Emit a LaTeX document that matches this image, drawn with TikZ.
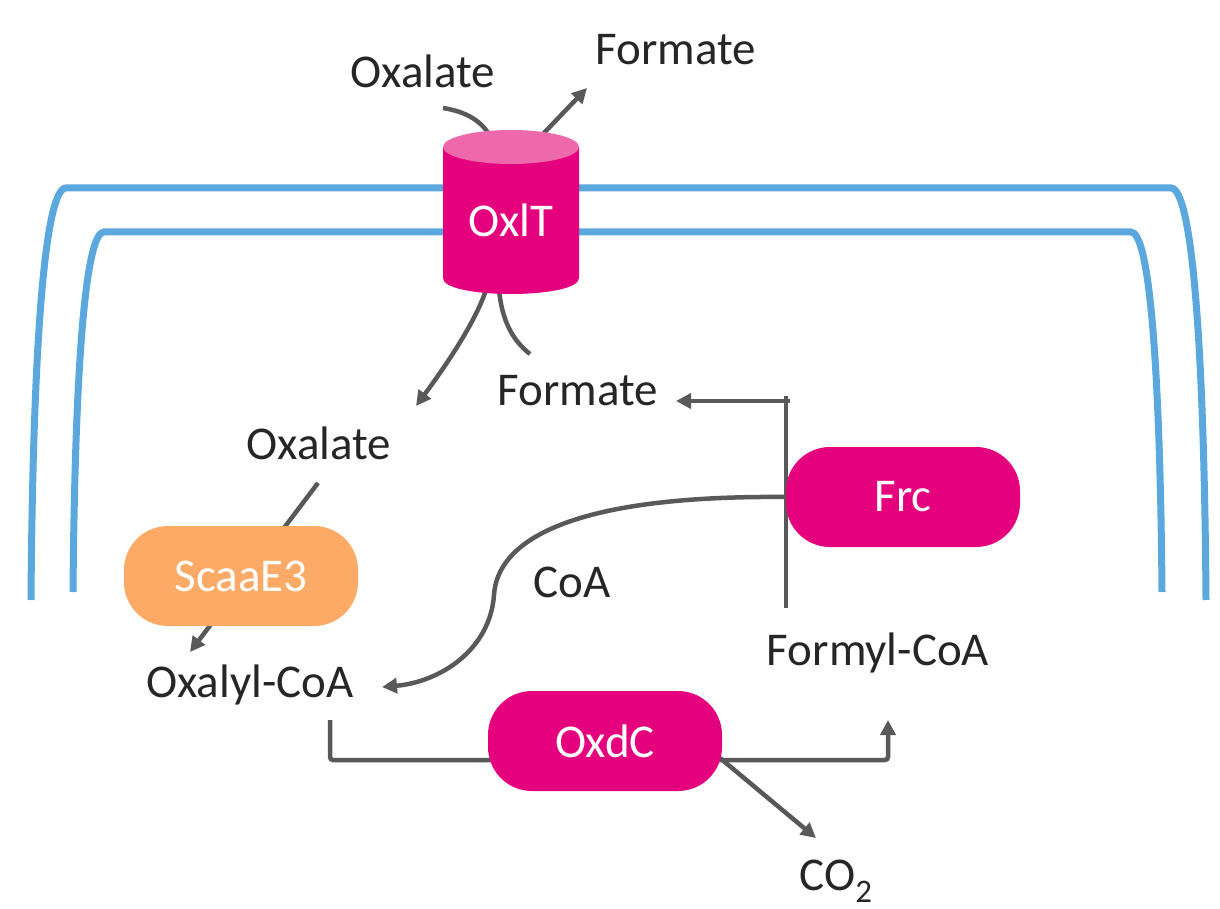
\documentclass[tikz,border=0pt]{standalone}
\usepackage{fontspec}
\setmainfont{Carlito}
\usetikzlibrary{arrows.meta}
\pgfdeclarelayer{back}
\pgfsetlayers{back,main}
\definecolor{memb}{RGB}{91,168,222}
\definecolor{pinkc}{RGB}{229,0,125}
\definecolor{pinktop}{RGB}{238,104,172}
\definecolor{orangec}{RGB}{252,170,102}
\definecolor{arrowc}{RGB}{89,89,89}
\definecolor{txt}{RGB}{38,38,38}
\begin{document}
\begin{tikzpicture}[x=1pt,y=-1pt,font=\fontsize{47}{56}\selectfont,
  lbl/.style={text=txt,inner sep=0pt,anchor=base},
  enz/.style={fill=pinkc,text=white,rounded corners=44pt,minimum width=234pt,minimum height=100pt,inner sep=0pt},
  conn/.style={draw=arrowc,line width=4.5pt},
  arr/.style={conn,-{Triangle[length=15pt,width=15pt]}},
  memline/.style={draw=memb,line width=7pt}]
\useasboundingbox (0,0) rectangle (1220,909);
% membranes
\begin{pgfonlayer}{back}
\draw[memline] (31,600) .. controls (33,330) and (46,188) .. (66,188) -- (1171,188) .. controls (1191,188) and (1204,330) .. (1206,600);
\draw[memline] (73,592) .. controls (75,360) and (86,232) .. (104,232) -- (1131,232) .. controls (1149,232) and (1160,360) .. (1162,592);
\end{pgfonlayer}
% transporter
\fill[pinkc] (443,147) -- (443,278) .. controls (443,299.3) and (579,299.3) .. (579,278) -- (579,147) -- cycle;
\fill[pinktop] (511,147) ellipse [x radius=68pt, y radius=17pt];
\node[text=white,inner sep=0pt,anchor=base] (oxlt) at (511,237) {OxlT};
% labels
\node[lbl] (oxaOut) at (423,88) {Oxalate};
\node[lbl] (forOut) at (676,65) {Formate};
\node[lbl] (forIn) at (578,405) {Formate};
\node[lbl] (oxaIn) at (319,459) {Oxalate};
\node[lbl] (coa) at (572,597) {CoA};
\node[lbl] (oxcoa) at (250,697) {Oxalyl-CoA};
\node[lbl] (fcoa) at (878,665) {Formyl-CoA};
\node[lbl] (co2) at (836,890) {CO\textsubscript{2}};
% enzymes
\node[enz] (frc) at (903,497) {Frc};
\node[enz] (oxdc) at (605,741) {OxdC};
\node[enz,fill=orangec] (scaa) at (241,576) {ScaaE3};
% ports
\coordinate (oxaOutP) at (443,108);
\coordinate (oxltTopIn) at (490,136);
\coordinate (oxltTopOut) at (543,134);
\coordinate (forOutP) at (587,88);
\coordinate (oxltBotA) at (486,290);
\coordinate (oxaInP) at (416,406);
\coordinate (oxltBotB) at (499,290);
\coordinate (forInP) at (530,354);
\coordinate (oxaInS) at (318,483);
\coordinate (oxcoaN) at (190,652);
\coordinate (frcTop) at (786,396);
\coordinate (frcBot) at (786,608);
\coordinate (frcF) at (790,401);
\coordinate (forInE) at (676,401);
\coordinate (oxcoaE) at (382,687);
\coordinate (oxcoaS) at (330,720);
\coordinate (fcoaS) at (888,720);
\coordinate (oxdcSE) at (720,758);
\coordinate (co2N) at (816,838);
% connectors
\begin{pgfonlayer}{back}
\draw[conn] (oxaOutP) .. controls (468,112) and (482,122) .. (oxltTopIn);
\draw[arr] (oxltTopOut) -- (forOutP);
\draw[arr] (oxltBotA) .. controls (476,320) and (450,360) .. (oxaInP);
\draw[conn] (oxltBotB) .. controls (502,320) and (512,340) .. (forInP);
\draw[arr] (oxaInS) -- (oxcoaN);
\draw[conn,line width=3.5pt] (frcTop) -- (frcBot);
\draw[arr] (frcF) -- (forInE);
\draw[arr] (frc.west) .. controls (560,495) and (497,545) .. (494,595) .. controls (490,650) and (440,682) .. (oxcoaE);
\draw[arr,rounded corners=3pt] (oxcoaS) -- (330,760) -- (888,760) -- (fcoaS);
\draw[arr] (oxdcSE) -- (co2N);
\end{pgfonlayer}
\end{tikzpicture}
\end{document}
